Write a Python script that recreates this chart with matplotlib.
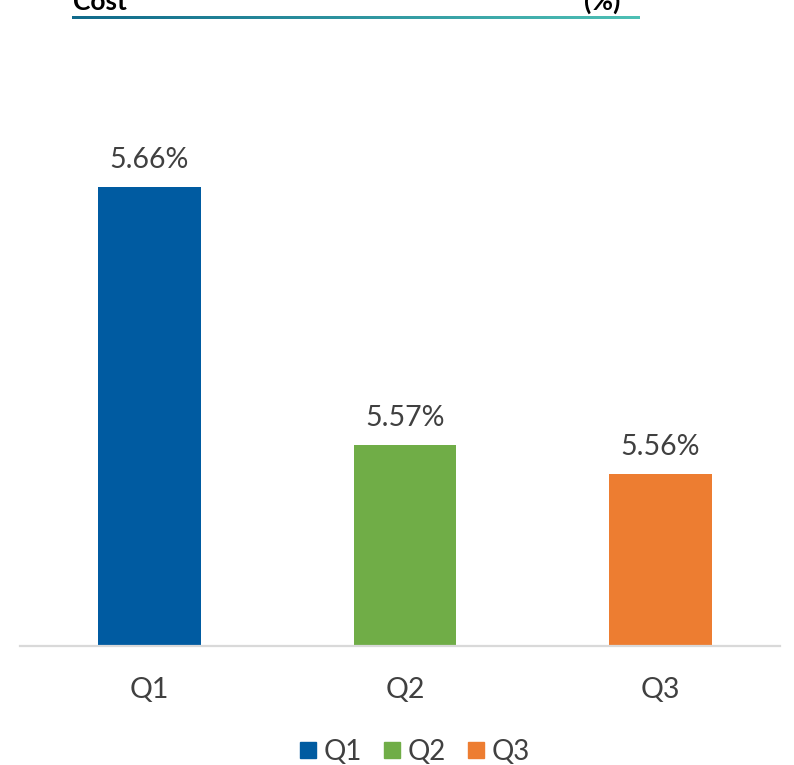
import numpy as np
import matplotlib.pyplot as plt
from matplotlib.lines import Line2D
from matplotlib.colors import LinearSegmentedColormap

quarters = ['Q1', 'Q2', 'Q3']
cost_pct = [5.66, 5.57, 5.56]
labels = ['5.66%', '5.57%', '5.56%']
colors = ['#005ba1', '#70ad47', '#ed7d31']

plt.rcParams['font.family'] = ['Lato', 'DejaVu Sans']
txt = '#404040'

W, H = 794, 765
fig = plt.figure(figsize=(W / 100, H / 100), dpi=100)

# plot area in pixel terms
top_px, bot_px = 60, 646
ax = fig.add_axes([20 / W, 1 - bot_px / H, 760 / W, (bot_px - top_px) / H])

x = np.arange(len(quarters))
ax.bar(x, cost_pct, width=0.403, color=colors, zorder=2)
for xi, v, lab in zip(x, cost_pct, labels):
    ax.annotate(lab, (xi, v), xytext=(0, 10), textcoords='offset points',
                ha='center', va='bottom', fontsize=20.5, color=txt)

ax.set_ylim(5.50, 5.50 + (bot_px - top_px) / 2867)
ax.set_xlim(-0.507, 2.468)
ax.set_yticks([])
ax.set_xticks(x)
ax.set_xticklabels(quarters, fontsize=20.5, color=txt)
ax.tick_params(axis='x', length=0, pad=22)
for s in ['top', 'left', 'right']:
    ax.spines[s].set_visible(False)
ax.spines['bottom'].set_color('#d9d9d9')
ax.spines['bottom'].set_linewidth(1.6)

# legend
handles = [Line2D([], [], marker='s', linestyle='none', markersize=11.5,
                  color=c) for c in colors]
fig.legend(handles, quarters, loc='center', bbox_to_anchor=(412 / W, 1 - 752 / H),
           ncol=3, frameon=False, fontsize=20, labelcolor=txt,
           handletextpad=0.05, columnspacing=0.6, handlelength=1.0)

# cut-off header with gradient rule
fig.text(73 / W, 1 - 10 / H, 'Cost', fontsize=19, fontweight='bold',
         color='black', ha='left', va='baseline')
fig.text(620 / W, 1 - 10 / H, '(%)', fontsize=19, fontweight='bold',
         color='black', ha='right', va='baseline')
cmap = LinearSegmentedColormap.from_list('hdr', ['#106a8b', '#4ec0b5'])
gax = fig.add_axes([72 / W, 1 - 19 / H, 568 / W, 3 / H])
gax.imshow(np.linspace(0, 1, 256)[None, :], aspect='auto', cmap=cmap)
gax.axis('off')

fig.savefig('out.png', dpi=100)
